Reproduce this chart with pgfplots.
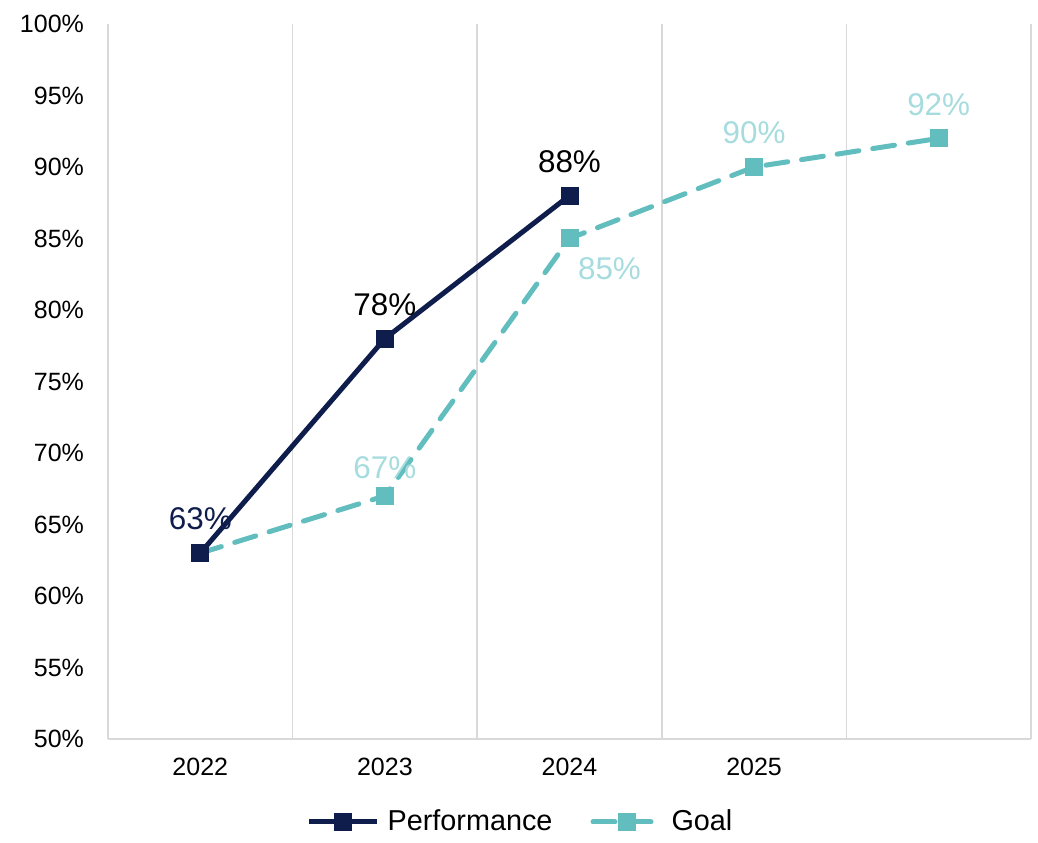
\documentclass[border=0pt]{standalone}
\usepackage{fontspec}
\setmainfont{Liberation Sans}
\usepackage{pgfplots}
\usepackage{pgfplotstable}
\pgfplotsset{compat=1.18}

\definecolor{perfc}{HTML}{0E1D4C}
\definecolor{goalc}{HTML}{62BDBE}
\definecolor{goallab}{HTML}{A6DCDE}
\definecolor{gridc}{HTML}{D9D9D9}

% x = category index, dx/dy = label offset (pt), op = show label, nv = navy label
\pgfplotstableread{
x y dx dy op nv
0 63 0 17 1 1
1 78 0 17 1 0
2 88 0 17 1 0
}\perf
\pgfplotstableread{
x y dx dy op nv
0 63 0 14 0 0
1 67 0 14 1 0
2 85 20 -15 1 0
3 90 0 17 1 0
4 92 0 17 1 0
}\goal

\begin{document}
\begin{tikzpicture}
\begin{axis}[
    width=461.5pt, height=357.5pt, scale only axis,
    xmin=-0.5, xmax=4.5, ymin=50, ymax=100,
    axis x line*=bottom, axis y line*=box,
    axis line style={gridc, line width=0.75pt, -},
    xtick={0,1,2,3}, xticklabels={2022,2023,2024,2025},
    minor xtick={0.5,1.5,2.5,3.5},
    xminorgrids=true,
    minor grid style={gridc, line width=0.75pt},
    ytick={50,55,...,100},
    yticklabel={\pgfmathprintnumber{\tick}\%},
    yticklabel pos=left,
    major tick length=0pt, minor tick length=0pt,
    /pgf/number format/assume math mode=true,
    tick label style={font=\fontsize{12.5}{15}\selectfont},
    yticklabel style={xshift=-8.5pt},
    xticklabel style={yshift=-6pt},
    reverse legend,
    legend style={at={(0.5,0)}, anchor=center, xshift=-24pt, yshift=-41.5pt,
        draw=none, legend columns=-1,
        font=\fontsize{14.4}{17}\selectfont,
        /tikz/every even column/.append style={column sep=17pt},
        /tikz/every odd column/.append style={column sep=2pt}},
    legend image code/.code={\draw[mark repeat=2, mark phase=2, #1]
        plot coordinates {(0pt,0pt) (17pt,0pt) (34pt,0pt)};},
    nodes near coords={\ifdim\op pt>0.5pt\ifdim\nv pt>0.5pt\color{perfc}\fi
        \pgfmathprintnumber{\pgfplotspointmeta}\%\fi},
    visualization depends on={\thisrow{dx} \as \dx},
    visualization depends on={\thisrow{dy} \as \dy},
    visualization depends on={\thisrow{op} \as \op},
    visualization depends on={\thisrow{nv} \as \nv},
    every node near coord/.append style={anchor=center, xshift=\dx pt,
        yshift=\dy pt, font=\fontsize{15.7}{18}\selectfont},
]
\addplot[goalc, line width=2.5pt, dash pattern=on 11pt off 7pt, line cap=round,
    mark=square*, mark size=3.25pt, mark options={solid}, point meta=explicit,
    nodes near coords style={text=goallab}]
    table[x=x, y=y, meta=y] {\goal};
\addlegendentry{Goal}
\addplot[perfc, line width=2.5pt, mark=square*, mark size=3.25pt,
    mark options={solid}, point meta=explicit,
    nodes near coords style={text=black}]
    table[x=x, y=y, meta=y] {\perf};
\addlegendentry{Performance}
\end{axis}
\pgfresetboundingbox
\path ([xshift=-54pt,yshift=-52pt]current axis.south west)
    rectangle ([xshift=3.5pt,yshift=12pt]current axis.north east);
\end{tikzpicture}
\end{document}
